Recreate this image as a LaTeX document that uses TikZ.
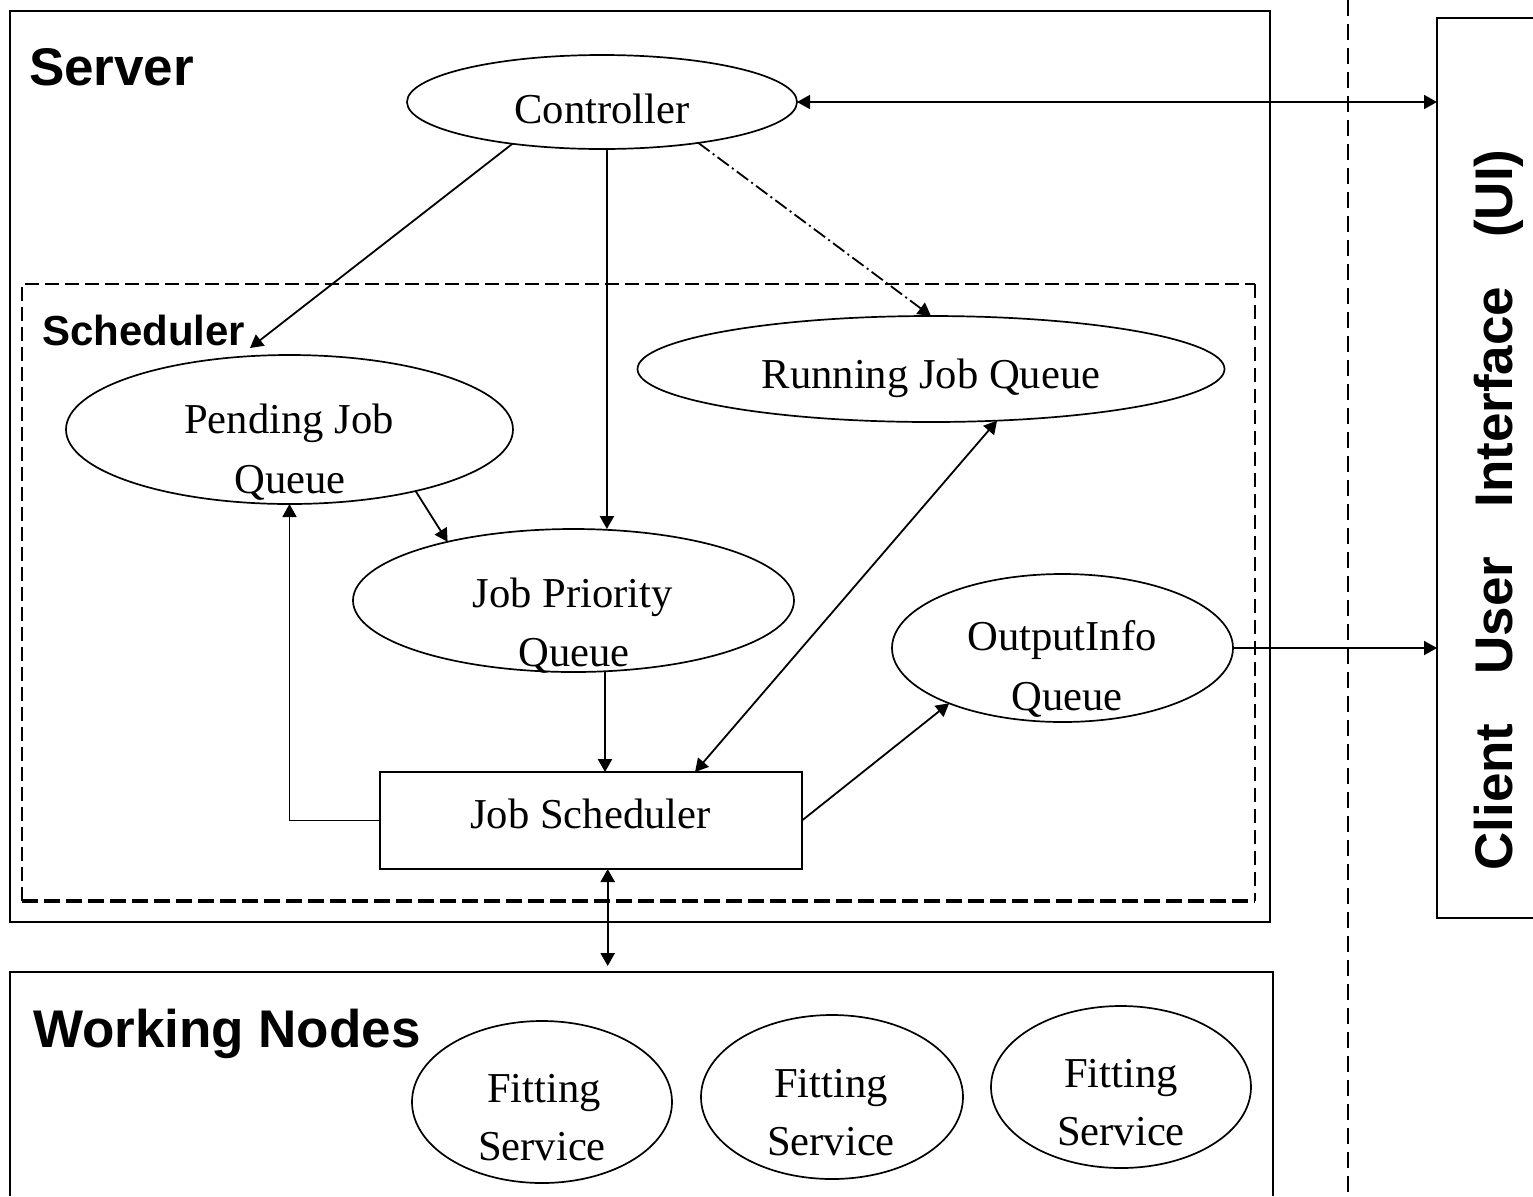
\documentclass[tikz,border=0pt]{standalone}
\usepackage{fontspec}
\setmainfont{Liberation Serif}
\setsansfont{Liberation Sans}
\usetikzlibrary{arrows.meta,shapes.geometric}
\begin{document}
\begin{tikzpicture}[x=0.5pt,y=-0.5pt,
  every node/.style={inner sep=0pt,outer sep=0pt},
  frame/.style={line width=0.9pt},
  qell/.style={draw,ellipse,line width=0.85pt,inner sep=0pt},
  jsbox/.style={draw,rectangle,line width=0.9pt,inner sep=0pt},
  lbl/.style={font=\fontsize{21.3}{25}\selectfont,anchor=base},
  head/.style={font=\fontsize{26.5}{30}\selectfont\sffamily\bfseries,anchor=base west},
  subhead/.style={font=\fontsize{21}{25}\selectfont\sffamily\bfseries,anchor=base west},
  tip/.tip={Triangle[length=6.5pt,width=7pt]},
  arr/.style={line width=0.9pt,-tip},
  darr/.style={line width=0.9pt,tip-tip},
]
\useasboundingbox (0,0) rectangle (1533,1196);

% containers
\draw[frame] (10,11) rectangle (1270,922);
\draw[line width=0.8pt,dash pattern=on 7pt off 3pt] (22,901) -- (22,284) -- (1255,284);
\draw[line width=1.1pt,dash pattern=on 7pt off 3.5pt] (1255,284) -- (1255,901);
\draw[line width=1.6pt,dash pattern=on 8pt off 3pt] (22,901) -- (1255,901);
\draw[frame] (10,1196) -- (10,972) -- (1273,972) -- (1273,1196);
\draw[frame] (1533,18) -- (1437,18) -- (1437,918) -- (1533,918);
\draw[line width=1.2pt,dash pattern=on 8pt off 4pt] (1348,0) -- (1348,1196);

\coordinate (uiL) at (1437,0);
\coordinate (wtop) at (607,966);
\coordinate (pendTip) at (250,348);

% headings
\node[head] (serverT) at (29,85) {Server};
\node[subhead] (schedT) at (42,345) {Scheduler};
\node[head] (workT) at (33,1047) {Working Nodes};
\node[font=\fontsize{26.5}{30}\selectfont\sffamily\bfseries,rotate=90,anchor=base] (uiT) at (1512,510)
  {Client\hspace{24.5pt}User\hspace{24.5pt}Interface\hspace{24.5pt}(UI)};

% shapes
\node[qell,minimum width=195pt,minimum height=47pt] (ctrl) at (602,102) {};
\node[qell,minimum width=223.5pt,minimum height=74.5pt] (pend) at (289.5,429.5) {};
\node[qell,minimum width=293.5pt,minimum height=53pt] (run) at (931,369) {};
\node[qell,minimum width=220.5pt,minimum height=71.5pt] (prio) at (573.5,600.5) {};
\node[qell,minimum width=170.5pt,minimum height=74pt] (out) at (1062.5,648) {};
\node[jsbox,minimum width=211pt,minimum height=48.5pt] (js) at (591,820.5) {};
\node[qell,minimum width=130pt,minimum height=81pt] (f1) at (542,1102) {};
\node[qell,minimum width=131pt,minimum height=82pt] (f2) at (832,1097) {};
\node[qell,minimum width=130pt,minimum height=81pt] (f3) at (1121,1087) {};

% texts
\node[lbl] (ctrlT) at (602,123) {Controller};
\node[lbl] (runT) at (931,388) {Running Job Queue};
\node[lbl] (pendT1) at (289,433) {Pending Job};
\node[lbl] (pendT2) at (290,493) {Queue};
\node[lbl] (prioT1) at (572.5,607) {Job Priority};
\node[lbl] (prioT2) at (574,666) {Queue};
\node[lbl] (outT1) at (1062,650) {OutputInfo};
\node[lbl] (outT2) at (1067,710) {Queue};
\node[lbl] (jsT) at (590.5,828) {Job Scheduler};
\node[lbl] (f1a) at (544,1102) {Fitting};
\node[lbl] (f1b) at (542,1160) {Service};
\node[lbl] (f2a) at (831,1097) {Fitting};
\node[lbl] (f2b) at (831,1155) {Service};
\node[lbl] (f3a) at (1121,1087) {Fitting};
\node[lbl] (f3b) at (1121,1145) {Service};

% connectors
\draw[darr] (ctrl.east) -- (ctrl.east -| uiL);
\draw[arr] (ctrl.205.8) -- (pendTip);
\draw[arr,line width=1.2pt] (ctrl.-84) -- (ctrl.-84 |- prio.north);
\draw[arr,dash pattern=on 7pt off 2pt on 1pt off 2pt] (ctrl.-23.7) -- (run.north);
\draw[arr] (pend.-26.85) -- (prio.155.9);
\draw[arr,line width=1.2pt] (prio.-66.7) -- (prio.-66.7 |- js.north);
\draw[darr] (js.25) -- (run.-38.9);
\draw[arr] (js.east) -- (out.206);
\draw[arr] (js.west) -| (pend.south);
\draw[darr,line width=1.2pt] (js.-71.7) -- (js.-71.7 |- wtop);
\draw[arr] (out.east) -- (out.east -| uiL);
\end{tikzpicture}
\end{document}
